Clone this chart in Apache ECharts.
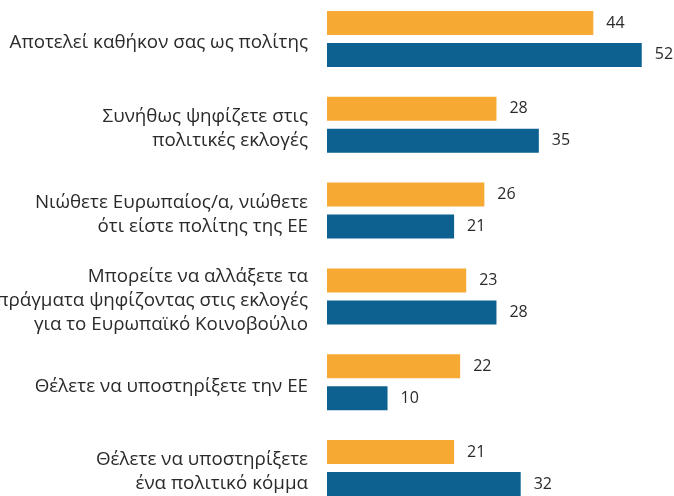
<!DOCTYPE html>
<html>
<head>
<meta charset="utf-8">
<script src="https://cdn.jsdelivr.net/npm/echarts@6/dist/echarts.min.js"></script>
<style>
  html, body { margin: 0; padding: 0; background: #fff; }
  #chart { width: 674px; height: 496px; }
</style>
</head>
<body>
<div id="chart"></div>
<script>
// κατηγορίες (από πάνω προς τα κάτω)
const categories = [
  "Αποτελεί καθήκον σας ως πολίτης",
  "Συνήθως ψηφίζετε στις\nπολιτικές εκλογές",
  "Νιώθετε Ευρωπαίος/α, νιώθετε\nότι είστε πολίτης της ΕΕ",
  "Μπορείτε να αλλάξετε τα\nπράγματα ψηφίζοντας στις εκλογές\nγια το Ευρωπαϊκό Κοινοβούλιο",
  "Θέλετε να υποστηρίξετε την ΕΕ",
  "Θέλετε να υποστηρίξετε\nένα πολιτικό κόμμα"
];
const orangeValues = [44, 28, 26, 23, 22, 21];
const blueValues = [52, 35, 21, 28, 10, 32];

const chart = echarts.init(document.getElementById("chart"));

const labelStyle = {
  show: true,
  position: "right",
  distance: 13,
  color: "#2a2a2a",
  fontSize: 16,
  fontFamily: "Open Sans"
};

chart.setOption({
  animation: false,
  grid: { left: 327, top: -4, width: 345, height: 515, outerBoundsMode: "none" },
  xAxis: {
    type: "value",
    min: 0,
    max: 57,
    show: false
  },
  yAxis: {
    type: "category",
    inverse: true,
    data: categories,
    axisLine: { show: false },
    axisTick: { show: false },
    axisLabel: {
      margin: 19,
      color: "#2a2a2a",
      fontSize: 18.8,
      lineHeight: 24,
      fontFamily: "Open Sans",
      align: "right",
      // μια κενή γραμμή από πάνω για να κατέβει λίγο το κείμενο
      formatter: (v) => "{s| }\n" + v,
      rich: { s: { fontSize: 2, lineHeight: 8 } }
    }
  },
  series: [
    {
      type: "bar",
      data: orangeValues,
      barWidth: 24,
      barGap: "33%",
      itemStyle: { color: "#F6A933" },
      label: labelStyle
    },
    {
      type: "bar",
      data: blueValues,
      barWidth: 24,
      itemStyle: { color: "#0D6191" },
      label: labelStyle
    }
  ]
});
</script>
</body>
</html>
